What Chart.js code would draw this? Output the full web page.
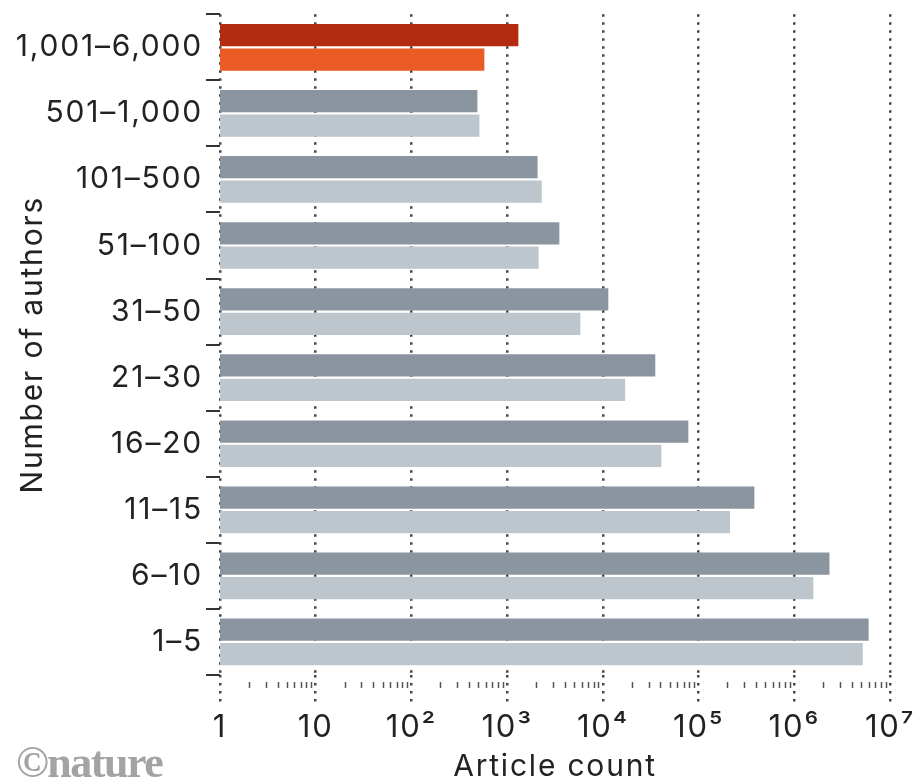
<!DOCTYPE html>
<html lang="en">
<head>
  <meta charset="UTF-8">
  <title>Number of authors per article</title>
  <style>
    html, body {
      margin: 0;
      padding: 0;
      background: #fff;
    }
    .wrap {
      position: relative;
      width: 917px;
      height: 783px;
    }
    .logo {
      position: absolute;
      left: 16px;
      top: 737px;
      font-family: 'Liberation Serif', serif;
      font-weight: bold;
      font-size: 44px;
      letter-spacing: -1.5px;
      color: #a3a3a3;
    }
  </style>
  <script src="https://cdn.jsdelivr.net/npm/chart.js"></script>
</head>
<body>
  <div class="wrap">
    <canvas id="authorsChart" width="917" height="783"></canvas>
    <div class="logo">©nature</div>
  </div>

  <script>
    // author-count bins, largest first (top of the chart)
    const authorBins = ['1,001–6,000', '501–1,000', '101–500', '51–100', '31–50',
                        '21–30', '16–20', '11–15', '6–10', '1–5'];
    // article counts, two series per bin
    const countsA = [1310, 489, 2080, 3510, 11400, 35300, 78200, 383000, 2330000, 5980000];
    const countsB = [578, 513, 2300, 2130, 5820, 17100, 40800, 213000, 1580000, 5190000];
    // powers of ten shown on the x axis
    const decadeExps = [0, 1, 2, 3, 4, 5, 6, 7];
    const supDigits = ['⁰', '¹', '²', '³', '⁴', '⁵', '⁶', '⁷'];

    const highlightBin = '1,001–6,000';
    const colA = authorBins.map(b => b === highlightBin ? '#b32b11' : '#8b959f');
    const colB = authorBins.map(b => b === highlightBin ? '#ea5b25' : '#bdc5cd');

    const FONT = 'Inter, "Noto Sans", sans-serif';

    // the type in this chart runs a little wide
    const wideText = {
      id: 'wideText',
      beforeInit(chart) { chart.ctx.letterSpacing = '1.8px'; },
      beforeDraw(chart) { chart.ctx.letterSpacing = '1.8px'; }
    };

    // small minor ticks (2..9 x 10^k) just under the plot area
    const minorTicks = {
      id: 'minorTicks',
      afterDraw(chart) {
        const x = chart.scales.x;
        const ctx = chart.ctx;
        const y0 = chart.chartArea.bottom + 7;
        ctx.save();
        ctx.strokeStyle = '#555';
        ctx.lineWidth = 1.5;
        decadeExps.slice(0, -1).forEach(k => {
          for (let m = 2; m <= 9; m++) {
            const px = Math.round(x.getPixelForValue(m * Math.pow(10, k))) + 0.5;
            ctx.beginPath();
            ctx.moveTo(px, y0);
            ctx.lineTo(px, y0 + 6);
            ctx.stroke();
          }
        });
        ctx.restore();
      }
    };

    new Chart(document.getElementById('authorsChart'), {
      type: 'bar',
      data: {
        labels: authorBins,
        datasets: [
          { data: countsA, backgroundColor: colA },
          { data: countsB, backgroundColor: colB }
        ]
      },
      options: {
        indexAxis: 'y',
        responsive: false,
        animation: false,
        layout: { padding: { top: 0, right: 27, left: 0, bottom: 0 } },
        datasets: {
          bar: { categoryPercentage: 0.74, barPercentage: 0.91 }
        },
        plugins: {
          legend: { display: false },
          tooltip: { enabled: false }
        },
        scales: {
          x: {
            type: 'logarithmic',
            min: 1,
            max: 1e7,
            afterBuildTicks(scale) {
              scale.ticks = decadeExps.map(k => ({ value: Math.pow(10, k) }));
            },
            afterFit(scale) {
              scale.height = 108;
            },
            border: { display: false, dash: [2.5, 5.5] },
            grid: {
              color: '#444',
              lineWidth: 2.5,
              tickLength: 30,
              tickColor: '#444',
              tickBorderDash: [2.5, 5.5]
            },
            ticks: {
              autoSkip: false,
              maxRotation: 0,
              padding: 4,
              color: '#222',
              font: { family: FONT, size: 31, weight: 400 },
              callback(value) {
                const k = Math.round(Math.log10(value));
                if (k === 0) return '1';
                if (k === 1) return '10';
                return '10' + supDigits[k];
              }
            },
            title: {
              display: true,
              text: 'Article count',
              color: '#222',
              font: { family: FONT, size: 30, weight: 400, lineHeight: 1.1 },
              padding: { top: 0, bottom: 0 }
            }
          },
          y: {
            afterFit(scale) {
              scale.width = 220;
            },
            border: { display: false },
            grid: {
              offset: true,
              drawOnChartArea: false,
              tickLength: 14,
              tickColor: '#333',
              lineWidth: 2
            },
            ticks: {
              padding: 3,
              color: '#222',
              font: { family: FONT, size: 30, weight: 400, lineHeight: 0.75 }
            },
            title: {
              display: true,
              text: 'Number of authors',
              color: '#222',
              font: { family: FONT, size: 30, weight: 400, lineHeight: 1.2 },
              padding: { top: 15, bottom: 0 }
            }
          }
        }
      },
      plugins: [wideText, minorTicks]
    });
  </script>
</body>
</html>
